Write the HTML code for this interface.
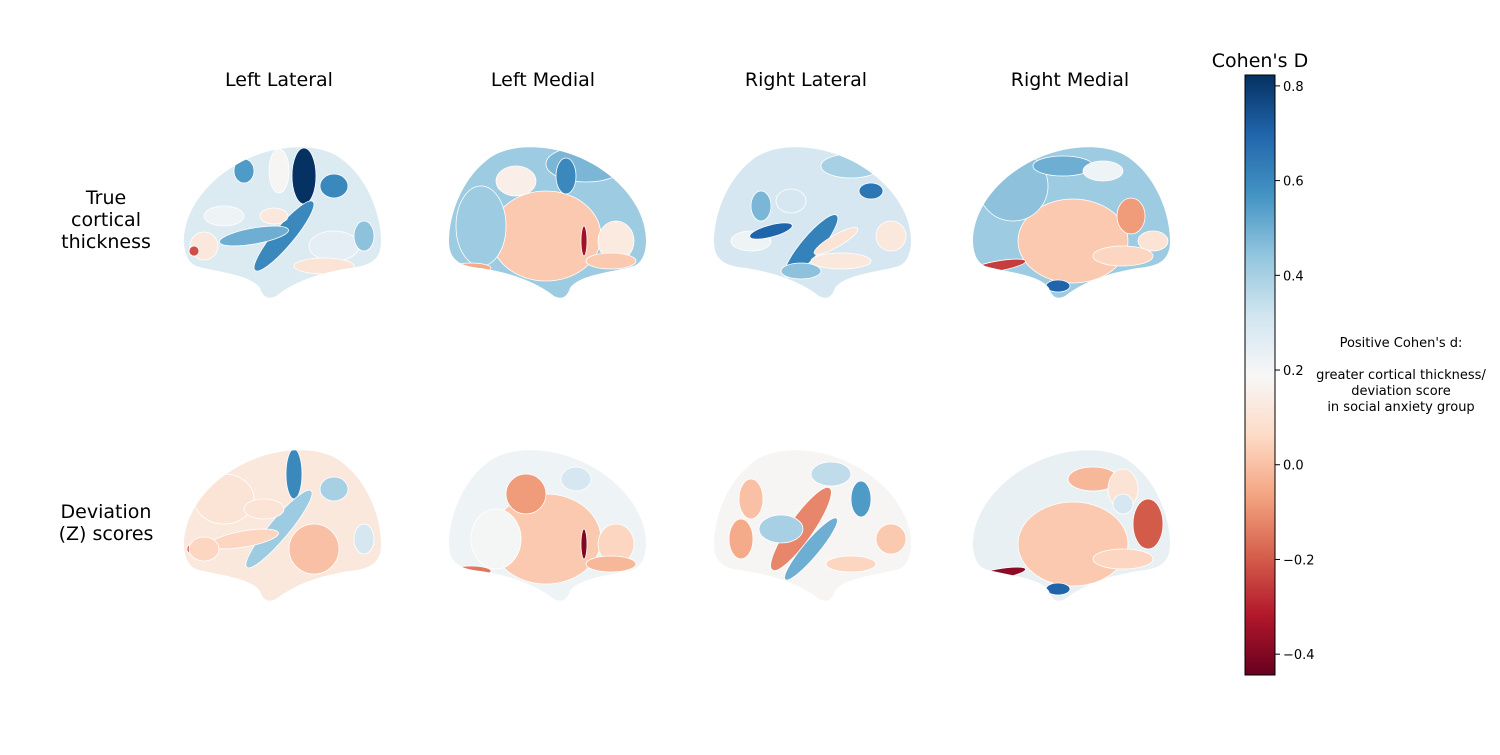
<!DOCTYPE html>
<html><head><meta charset="utf-8"><style>
body{margin:0;background:#fff;width:1500px;height:750px;overflow:hidden;font-family:"Liberation Sans","DejaVu Sans",sans-serif}
svg text{font-family:"DejaVu Sans","Liberation Sans",sans-serif}
</style></head><body>
<svg id="fig" width="1500" height="750" viewBox="0 0 1500 750" xmlns="http://www.w3.org/2000/svg">
<defs>
<linearGradient id="cmap" x1="0" y1="1" x2="0" y2="0">
<stop offset="0" stop-color="#67001f"/><stop offset="0.1" stop-color="#b2182b"/><stop offset="0.2" stop-color="#d6604d"/><stop offset="0.3" stop-color="#f4a582"/><stop offset="0.4" stop-color="#fddbc7"/><stop offset="0.5" stop-color="#f7f7f7"/><stop offset="0.6" stop-color="#d1e5f0"/><stop offset="0.7" stop-color="#92c5de"/><stop offset="0.8" stop-color="#4393c3"/><stop offset="0.9" stop-color="#2166ac"/><stop offset="1" stop-color="#053061"/>
</linearGradient>
<clipPath id="brainA"><path d="M0,95 C0,55 40,15 90,4 C120,-2 145,2 160,15 C185,35 197,70 197,95 C197,115 185,120 165,122 C140,126 112,134 92,150 C84,154 79,151 76,142 C66,128 32,126 12,120 C3,116 0,105 0,95 Z"/></clipPath>
<clipPath id="brainB"><path transform="translate(200,0) scale(-1,1)" d="M0,95 C0,55 40,15 90,4 C120,-2 145,2 160,15 C185,35 197,70 197,95 C197,115 185,120 165,122 C140,126 112,134 92,150 C84,154 79,151 76,142 C66,128 32,126 12,120 C3,116 0,105 0,95 Z"/></clipPath>
</defs>
<g id="titles">
<text x="279" y="86" font-size="19" text-anchor="middle">Left Lateral</text>
<text x="543" y="86" font-size="19" text-anchor="middle">Left Medial</text>
<text x="806" y="86" font-size="19" text-anchor="middle">Right Lateral</text>
<text x="1070" y="86" font-size="19" text-anchor="middle">Right Medial</text>
<text font-size="19" text-anchor="middle"><tspan x="106" y="204">True</tspan><tspan x="106" y="226">cortical</tspan><tspan x="106" y="248">thickness</tspan></text>
<text font-size="19" text-anchor="middle"><tspan x="106" y="518">Deviation</tspan><tspan x="106" y="540">(Z) scores</tspan></text>
</g>
<g id="brains"></g>
<g id="cbar">
<rect x="1245" y="75" width="30" height="600" fill="url(#cmap)" stroke="#000" stroke-width="1"/>
<text x="1260" y="67" font-size="19" text-anchor="middle">Cohen's D</text>
</g>
<text font-size="13" text-anchor="middle"><tspan x="1401" y="347">Positive Cohen's d:</tspan><tspan x="1401" y="379">greater cortical thickness/</tspan><tspan x="1401" y="395">deviation score</tspan><tspan x="1401" y="411">in social anxiety group</tspan></text>
</svg>
<script>
const vmin=-0.444, vmax=0.823;
const tickValues=[0.8,0.6,0.4,0.2,0.0,-0.2,-0.4];
const tickLabels=["0.8","0.6","0.4","0.2","0.0","\u22120.2","\u22120.4"];
const stops=[[103,0,31],[178,24,43],[214,96,77],[244,165,130],[253,219,199],[247,247,247],[209,229,240],[146,197,222],[67,147,195],[33,102,172],[5,48,97]];
function cm(v){let t=(v-vmin)/(vmax-vmin);t=Math.max(0,Math.min(1,t))*10;const i=Math.min(9,Math.floor(t)),f=t-i;const a=stops[i],b=stops[i+1];return `rgb(${a.map((c,k)=>Math.round(c+(b[k]-c)*f)).join(',')})`;}
function yScale(v){return 75+(vmax-v)/(vmax-vmin)*600;}
const NS='http://www.w3.org/2000/svg';
const cb=document.getElementById('cbar');
tickValues.forEach((v,i)=>{const y=yScale(v);
const l=document.createElementNS(NS,'line');l.setAttribute('x1',1275);l.setAttribute('x2',1280);l.setAttribute('y1',y);l.setAttribute('y2',y);l.setAttribute('stroke','#000');

cb.appendChild(l);
const t=document.createElementNS(NS,'text');t.setAttribute('x',1283);t.setAttribute('y',y+5);t.setAttribute('font-size','13');t.textContent=tickLabels[i];

cb.appendChild(t);});
const panelX=[184,446,711,973];
const panelY=[146,449];
const panelClip=['brainA','brainB','brainB','brainA'];
const baseValues=[[0.28,0.42,0.3,0.42],[0.12,0.22,0.18,0.24]];
const regions=[
[[[120,30,12,28,0,0.82],[95,25,10,22,0,0.18],[150,40,14,12,0,0.6],[60,25,10,12,0,0.55],[100,90,10,45,40,0.6],[70,90,35,8,-10,0.5],[20,100,14,14,0,0.12],[10,105,5,5,0,-0.22],[150,100,25,15,0,0.25],[140,120,30,8,0,0.1],[40,70,20,10,0,0.22],[90,70,14,8,0,0.12],[180,90,10,15,0,0.45]],
 [[100,90,55,45,0,0.02],[60,18,40,18,0,0.48],[80,30,10,18,0,0.6],[130,35,20,15,0,0.15],[165,80,25,40,0,0.42],[30,95,18,20,0,0.13],[62,95,3,15,0,-0.35],[35,115,25,8,0,0.02],[175,122,20,5,0,-0.05]],
 [[100,100,10,40,-40,0.62],[60,20,30,12,0,0.4],[40,45,12,8,0,0.65],[150,60,10,15,0,0.48],[160,95,20,10,0,0.22],[140,85,22,6,15,0.7],[20,90,15,15,0,0.12],[75,95,25,6,30,0.1],[70,115,30,8,0,0.12],[120,55,15,12,0,0.3],[110,125,20,8,0,0.45]],
 [[100,95,55,42,0,0.02],[40,40,35,35,0,0.45],[90,20,30,10,0,0.5],[130,25,20,10,0,0.22],[158,70,14,18,0,-0.08],[180,95,15,10,0,0.1],[25,120,28,5,-10,-0.25],[150,110,30,10,0,0.05],[85,140,12,6,0,0.7]]],
[[[40,50,30,25,0,0.1],[110,25,8,25,0,0.6],[150,40,14,12,0,0.4],[95,80,10,50,40,0.42],[130,100,25,25,0,0.0],[60,90,35,8,-10,0.05],[8,100,5,5,0,-0.25],[20,100,15,12,0,0.05],[80,60,20,10,0,0.1],[180,90,10,15,0,0.3]],
 [[100,90,55,45,0,0.02],[120,45,20,20,0,-0.08],[70,30,15,12,0,0.3],[150,90,25,30,0,0.2],[30,95,18,20,0,0.05],[62,95,3,15,0,-0.4],[35,115,25,8,0,-0.02],[175,122,20,5,0,-0.15]],
 [[110,80,12,50,-35,-0.12],[100,100,8,40,-40,0.5],[50,50,10,18,0,0.55],[80,25,20,12,0,0.35],[130,80,22,14,0,0.4],[160,50,12,20,0,0.0],[170,90,12,20,0,-0.05],[20,90,15,15,0,0.02],[60,115,25,8,0,0.05]],
 [[100,95,55,42,0,0.02],[120,30,25,12,0,-0.02],[150,40,15,20,0,0.1],[150,55,10,10,0,0.3],[175,75,15,25,0,-0.2],[150,110,30,10,0,0.05],[25,125,28,5,-10,-0.38],[85,140,12,6,0,0.7]]]];
const g=document.getElementById('brains');
const rowNames=['true','deviation'],viewNames=['left-lateral','left-medial','right-lateral','right-medial'];
panelY.forEach((py,r)=>panelX.forEach((px,c)=>{
const grp=document.createElementNS(NS,'g');grp.setAttribute('transform',`translate(${px},${py})`);


const inner=document.createElementNS(NS,'g');inner.setAttribute('clip-path',`url(#${panelClip[c]})`);
const bg=document.createElementNS(NS,'rect');bg.setAttribute('x',-5);bg.setAttribute('y',-5);bg.setAttribute('width',210);bg.setAttribute('height',165);bg.setAttribute('fill',cm(baseValues[r][c]));inner.appendChild(bg);
const flip=panelClip[c]==='brainB';
regions[r][c].forEach(d=>{const e=document.createElementNS(NS,'ellipse');const cx=flip?200-d[0]:d[0];const rot=flip?-d[4]:d[4];
e.setAttribute('cx',cx);e.setAttribute('cy',d[1]);e.setAttribute('rx',d[2]);e.setAttribute('ry',d[3]);e.setAttribute('transform',`rotate(${rot} ${cx} ${d[1]})`);
e.setAttribute('fill',cm(d[5]));e.setAttribute('stroke','#fff');e.setAttribute('stroke-width','0.8');

inner.appendChild(e);});
grp.appendChild(inner);g.appendChild(grp);}));
</script>
</body></html>
